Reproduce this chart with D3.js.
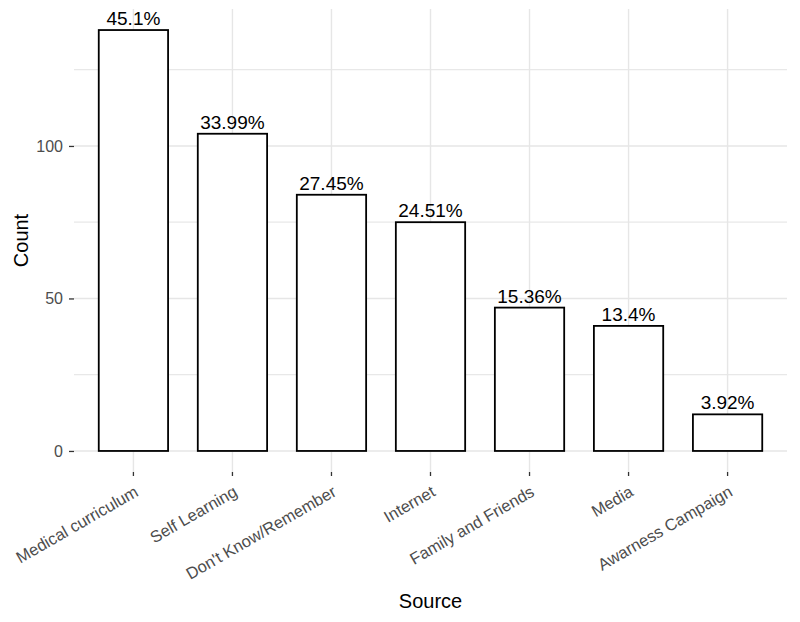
<!DOCTYPE html>
<html>
<head>
<meta charset="utf-8">
<script src="https://cdn.jsdelivr.net/npm/d3@7"></script>
<style>
  html, body { margin: 0; padding: 0; background: #ffffff; }
  svg { display: block; font-family: "Liberation Sans", Arial, sans-serif; }
</style>
</head>
<body>
<svg id="chart" width="800" height="622"></svg>
<script>
const categories = ["Medical curriculum", "Self Learning", "Don't Know/Remember", "Internet", "Family and Friends", "Media", "Awarness Campaign"];
const counts = [138, 104, 84, 75, 47, 41, 12];
const percentLabels = ["45.1%", "33.99%", "27.45%", "24.51%", "15.36%", "13.4%", "3.92%"];
const yTicks = [0, 50, 100];
const yMinorTicks = [25, 75, 125];

const svg = d3.select("#chart");
const panel = { left: 74, right: 787, top: 9, bottom: 472 };

const maxC = d3.max(counts);
const padY = maxC * 0.05;
const y = d3.scaleLinear().domain([-padY, maxC + padY]).range([panel.bottom, panel.top]);
const x = d3.scaleBand().domain(categories).range([panel.left, panel.right])
  .paddingInner(0.3).paddingOuter(0.25);

const grid = svg.append("g");
grid.selectAll("line.hminor").data(yMinorTicks).join("line")
  .attr("x1", panel.left).attr("x2", panel.right)
  .attr("y1", d => y(d)).attr("y2", d => y(d))
  .attr("stroke", "#e8e8e8").attr("stroke-width", 1.2);
grid.selectAll("line.hmajor").data(yTicks).join("line")
  .attr("x1", panel.left).attr("x2", panel.right)
  .attr("y1", d => y(d)).attr("y2", d => y(d))
  .attr("stroke", "#e6e6e6").attr("stroke-width", 1.4);
grid.selectAll("line.v").data(categories).join("line")
  .attr("x1", d => x(d) + x.bandwidth() / 2).attr("x2", d => x(d) + x.bandwidth() / 2)
  .attr("y1", panel.top).attr("y2", panel.bottom)
  .attr("stroke", "#e6e6e6").attr("stroke-width", 1.4);

// bars
svg.append("g").selectAll("rect").data(categories).join("rect")
  .attr("x", d => x(d))
  .attr("width", x.bandwidth())
  .attr("y", (d, i) => y(counts[i]))
  .attr("height", (d, i) => y(0) - y(counts[i]))
  .attr("fill", "#ffffff")
  .attr("stroke", "#000000")
  .attr("stroke-width", 1.8);

// percentage labels
svg.append("g").selectAll("text").data(categories).join("text")
  .attr("x", d => x(d) + x.bandwidth() / 2)
  .attr("y", (d, i) => y(counts[i]) - 5)
  .attr("text-anchor", "middle")
  .attr("font-size", 19)
  .attr("fill", "#000")
  .text((d, i) => percentLabels[i]);

// y axis
const yAxis = d3.axisLeft(y).tickValues(yTicks).tickSize(5).tickPadding(6);
const gy = svg.append("g").attr("transform", `translate(${panel.left},0)`).call(yAxis);
gy.select(".domain").remove();
gy.selectAll(".tick line").attr("stroke", "#333333").attr("stroke-width", 1.3);
gy.selectAll(".tick text").attr("font-size", 16).attr("fill", "#4d4d4d")
  .attr("font-family", "Liberation Sans, Arial, sans-serif");

// x axis
const xAxis = d3.axisBottom(x).tickSize(4).tickPadding(3);
const gx = svg.append("g").attr("transform", `translate(0,${panel.bottom})`).call(xAxis);
gx.select(".domain").remove();
gx.selectAll(".tick line").attr("stroke", "#333333").attr("stroke-width", 1.3);
gx.selectAll(".tick text")
  .attr("font-size", 16.5).attr("fill", "#4d4d4d")
  .attr("font-family", "Liberation Sans, Arial, sans-serif")
  .attr("text-anchor", "end")
  .attr("dy", null)
  .attr("y", null)
  .attr("transform", "translate(6,23) rotate(-30)");

// axis titles
svg.append("text")
  .attr("x", (panel.left + panel.right) / 2)
  .attr("y", 608)
  .attr("text-anchor", "middle")
  .attr("font-size", 20)
  .attr("fill", "#000")
  .text("Source");

svg.append("text")
  .attr("transform", `translate(28,${(panel.top + panel.bottom) / 2}) rotate(-90)`)
  .attr("text-anchor", "middle")
  .attr("font-size", 20)
  .attr("fill", "#000")
  .text("Count");
</script>
</body>
</html>
